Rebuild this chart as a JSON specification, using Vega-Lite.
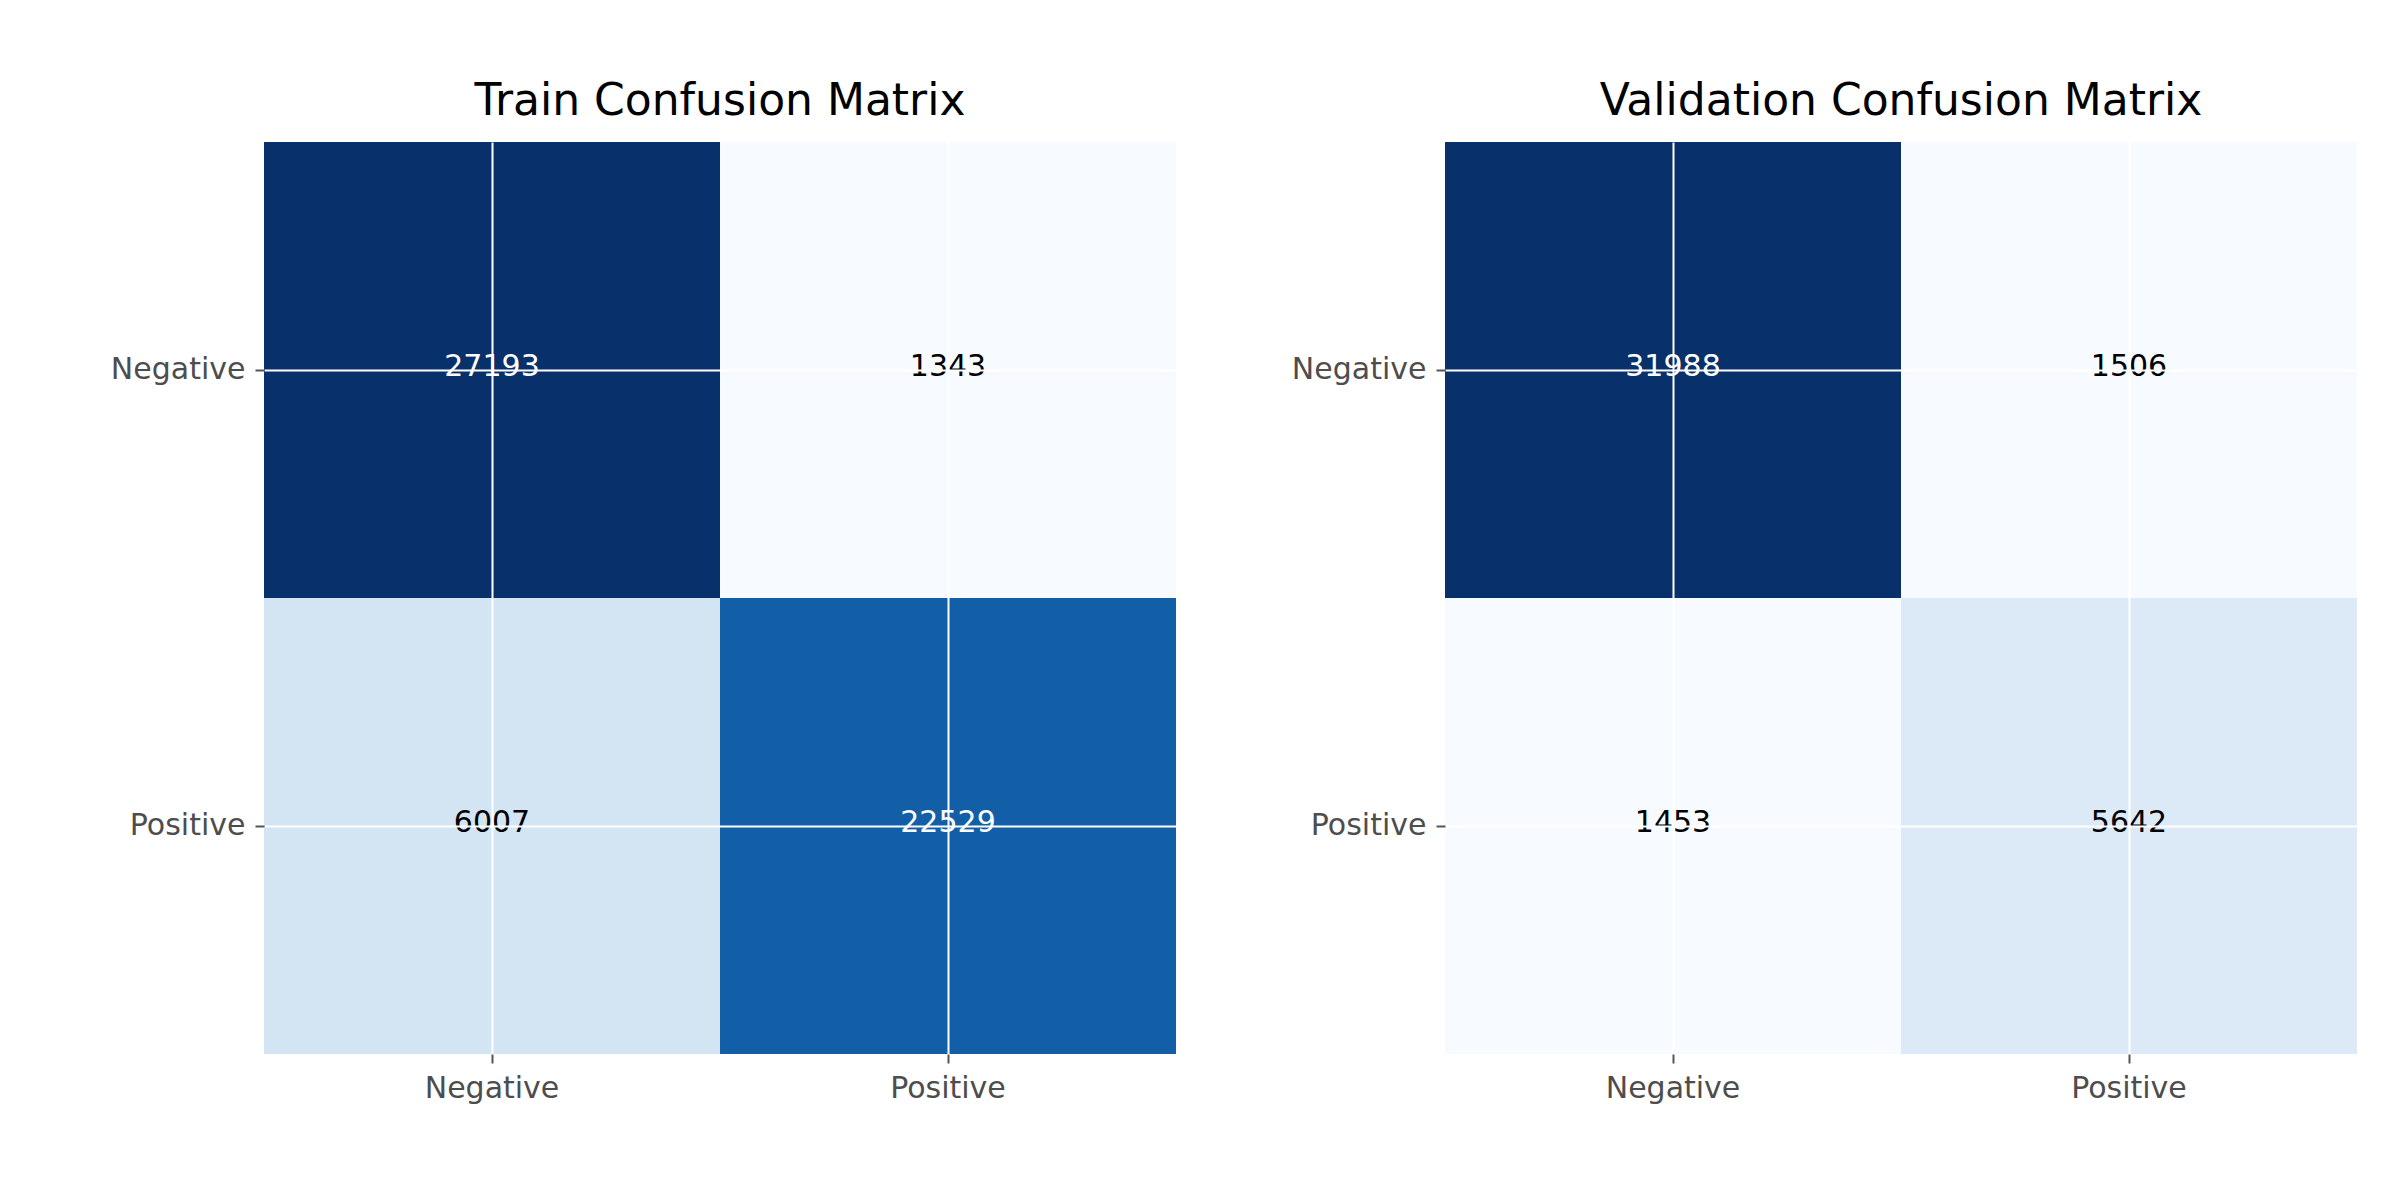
{
  "$schema": "https://vega.github.io/schema/vega-lite/v6.json",
  "background": "white",
  "padding": {"left": 110, "top": 80, "right": 20, "bottom": 20},
  "spacing": 115,
  "config": {
    "view": {"stroke": null},
    "font": "DejaVu Sans",
    "title": {"fontSize": 44, "fontWeight": "normal", "color": "black", "offset": 18},
    "axis": {
      "domain": false, "grid": true, "gridColor": "white", "gridWidth": 2, "gridOpacity": 1,
      "zindex": 1, "tickColor": "#555555", "tickSize": 9, "tickWidth": 2, "tickBand": "center",
      "labelColor": "#4d4d4d", "labelFontSize": 30, "labelPadding": 10, "title": null, "labelAngle": 0
    }
  },
  "datasets": {
    "train": [
      {"actual": "Negative", "pred": "Negative", "v": 27193},
      {"actual": "Negative", "pred": "Positive", "v": 1343},
      {"actual": "Positive", "pred": "Negative", "v": 6007},
      {"actual": "Positive", "pred": "Positive", "v": 22529}
    ],
    "val": [
      {"actual": "Negative", "pred": "Negative", "v": 31988},
      {"actual": "Negative", "pred": "Positive", "v": 1506},
      {"actual": "Positive", "pred": "Negative", "v": 1453},
      {"actual": "Positive", "pred": "Positive", "v": 5642}
    ]
  },
  "resolve": {"scale": {"color": "independent"}},
  "hconcat": [
    {
      "title": "Train Confusion Matrix",
      "width": 912, "height": 912,
      "data": {"name": "train"},
      "encoding": {
        "x": {"field": "pred", "type": "nominal", "scale": {"paddingInner": 0, "paddingOuter": 0}, "axis": {"orient": "bottom", "grid": true, "gridColor": "white", "gridWidth": 2, "tickBand": "center", "zindex": 1}},
        "y": {"field": "actual", "type": "nominal", "scale": {"paddingInner": 0, "paddingOuter": 0}, "axis": {"grid": true, "gridColor": "white", "gridWidth": 2, "tickBand": "center", "zindex": 1}}
      },
      "layer": [
        {"mark": {"type": "rect"}, "encoding": {"color": {"field": "v", "type": "quantitative", "scale": {"range": ["#f7fbff","#deebf7","#c6dbef","#9ecae1","#6baed6","#4292c6","#2171b5","#08519c","#08306b"], "domain": [1343, 27193]}, "legend": null}}},
        {"mark": {"type": "text", "fontSize": 30, "dy": -3}, "encoding": {"text": {"field": "v", "type": "quantitative", "format": "d"}, "color": {"condition": {"test": "datum.v > 14268", "value": "white"}, "value": "black"}}}
      ]
    },
    {
      "title": "Validation Confusion Matrix",
      "width": 912, "height": 912,
      "data": {"name": "val"},
      "encoding": {
        "x": {"field": "pred", "type": "nominal", "scale": {"paddingInner": 0, "paddingOuter": 0}, "axis": {"orient": "bottom", "grid": true, "gridColor": "white", "gridWidth": 2, "tickBand": "center", "zindex": 1}},
        "y": {"field": "actual", "type": "nominal", "scale": {"paddingInner": 0, "paddingOuter": 0}, "axis": {"grid": true, "gridColor": "white", "gridWidth": 2, "tickBand": "center", "zindex": 1}}
      },
      "layer": [
        {"mark": {"type": "rect"}, "encoding": {"color": {"field": "v", "type": "quantitative", "scale": {"range": ["#f7fbff","#deebf7","#c6dbef","#9ecae1","#6baed6","#4292c6","#2171b5","#08519c","#08306b"], "domain": [1453, 31988]}, "legend": null}}},
        {"mark": {"type": "text", "fontSize": 30, "dy": -3}, "encoding": {"text": {"field": "v", "type": "quantitative", "format": "d"}, "color": {"condition": {"test": "datum.v > 16720", "value": "white"}, "value": "black"}}}
      ]
    }
  ]
}
